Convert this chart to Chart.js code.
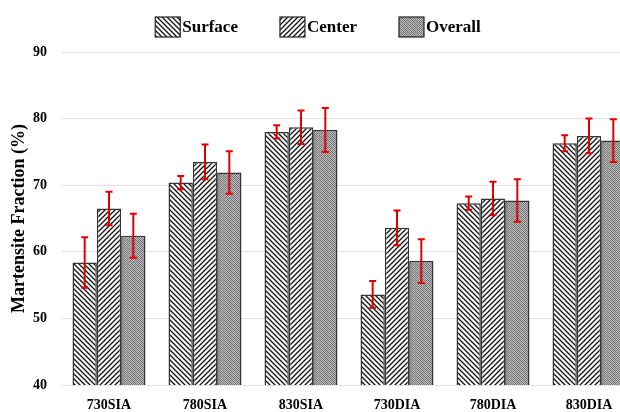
<!DOCTYPE html>
<html>
<head>
<meta charset="utf-8">
<script src="https://cdn.jsdelivr.net/npm/chart.js@4"></script>
<style>
html,body{margin:0;padding:0;background:#fff;overflow:hidden;width:620px;height:412px;}
#wrap{width:646px;height:412px;}
</style>
</head>
<body>
<div id="wrap"><canvas id="c" width="646" height="412"></canvas></div>
<script>
const categories = ['730SIA','780SIA','830SIA','730DIA','780DIA','830DIA'];
const surface = [58.4, 70.4, 78.0, 53.6, 67.3, 76.3];
const center  = [66.5, 73.5, 78.7, 63.6, 68.0, 77.4];
const overall = [62.4, 71.9, 78.3, 58.6, 67.7, 76.7];
const surfaceErr = [3.8, 1.0, 1.0, 2.0, 1.0, 1.2];
const centerErr  = [2.5, 2.6, 2.5, 2.6, 2.5, 2.6];
const overallErr = [3.3, 3.2, 3.3, 3.3, 3.2, 3.2];
const yTicks = [40, 50, 60, 70, 80, 90];

function stripe(dir){
  const s = 5;
  const c = document.createElement('canvas');
  c.width = s; c.height = s;
  const g = c.getContext('2d');
  g.fillStyle = '#fff'; g.fillRect(0,0,s,s);
  g.strokeStyle = '#111'; g.lineWidth = 1.3;
  g.beginPath();
  if(dir === 'back'){
    g.moveTo(-1,-1); g.lineTo(s+1,s+1);
    g.moveTo(-1,s-1); g.lineTo(1,s+1);
    g.moveTo(s-1,-1); g.lineTo(s+1,1);
  } else {
    g.moveTo(-1,s+1); g.lineTo(s+1,-1);
    g.moveTo(-1,1); g.lineTo(1,-1);
    g.moveTo(s-1,s+1); g.lineTo(s+1,s-1);
  }
  g.stroke();
  return g.createPattern(c,'repeat');
}
function dots(){
  const c = document.createElement('canvas');
  c.width = 4; c.height = 4;
  const g = c.getContext('2d');
  const cols = [
    ['#777','#bbb','#777','#aaa'],
    ['#ccc','#666','#bbb','#888'],
    ['#777','#aaa','#777','#bbb'],
    ['#bbb','#888','#ccc','#666']];
  for(let y=0;y<4;y++)for(let x=0;x<4;x++){g.fillStyle=cols[y][x];g.fillRect(x,y,1,1);}
  return g.createPattern(c,'repeat');
}

const serif = "'Liberation Serif','Times New Roman',serif";
const errMap = [surfaceErr, centerErr, overallErr];
const errorBars = {
  id:'errorBars',
  afterDatasetsDraw(chart){
    const ctx = chart.ctx, ys = chart.scales.y;
    ctx.save();
    ctx.strokeStyle = '#e00000';
    ctx.lineWidth = 2;
    chart.data.datasets.forEach((ds, di) => {
      const meta = chart.getDatasetMeta(di);
      meta.data.forEach((bar, i) => {
        const v = ds.data[i], e = errMap[di][i];
        const x = bar.x;
        const yt = ys.getPixelForValue(v + e), yb = ys.getPixelForValue(v - e);
        ctx.beginPath();
        ctx.moveTo(x, yt); ctx.lineTo(x, yb);
        ctx.moveTo(x-3.5, yt); ctx.lineTo(x+3.5, yt);
        ctx.moveTo(x-3.5, yb); ctx.lineTo(x+3.5, yb);
        ctx.stroke();
      });
    });
    ctx.restore();
  }
};

const topLegend = {
  id:'topLegend',
  afterDraw(chart, args, opts){
    const ctx = chart.ctx;
    ctx.save();
    ctx.font = 'bold 17px ' + serif;
    ctx.textBaseline = 'middle';
    const items = chart.data.datasets.map(ds => ({label:ds.label, fill:ds.backgroundColor, w:ctx.measureText(ds.label).width}));
    const bw = 25, bh = 20, tg = 2, ig = 42;
    let total = 0;
    items.forEach((it, i) => { total += bw + tg + it.w + (i < items.length-1 ? ig : 0); });
    let x = opts.centerX - total/2;
    const y = opts.top;
    items.forEach(it => {
      ctx.fillStyle = it.fill;
      ctx.fillRect(x, y, bw, bh);
      ctx.strokeStyle = '#222'; ctx.lineWidth = 1.2;
      ctx.strokeRect(x, y, bw, bh);
      ctx.fillStyle = '#000';
      ctx.fillText(it.label, x + bw + tg, y + bh/2 + 1);
      x += bw + tg + it.w + ig;
    });
    ctx.restore();
  }
};

const common = {borderColor:'#333', borderWidth:1.5, barPercentage:1.0, categoryPercentage:0.76, borderSkipped:false};
new Chart(document.getElementById('c'), {
  type:'bar',
  data:{
    labels:categories,
    datasets:[
      Object.assign({label:'Surface', data:surface, backgroundColor:stripe('back')}, common),
      Object.assign({label:'Center', data:center, backgroundColor:stripe('fwd')}, common),
      Object.assign({label:'Overall', data:overall, backgroundColor:dots()}, common)
    ]
  },
  options:{
    responsive:false,
    animation:false,
    layout:{padding:{left:0,right:9,top:52,bottom:0}},
    plugins:{
      legend:{display:false},
      tooltip:{enabled:false},
      topLegend:{centerX:318, top:17}
    },
    scales:{
      x:{
        grid:{display:false},
        border:{display:false},
        ticks:{color:'#000', font:{family:serif, size:14, weight:'bold'}, padding:4},
        afterFit(s){ s.height = 27; }
      },
      y:{
        min:40, max:90,
        afterBuildTicks(s){ s.ticks = yTicks.map(v=>({value:v})); },
        grid:{color:'#e3e3e3', lineWidth:1, drawTicks:false},
        border:{display:false},
        ticks:{color:'#000', font:{family:serif, size:14, weight:'bold'}, padding:14},
        title:{display:true, text:'Martensite Fraction (%)', color:'#000', font:{family:serif, size:18, weight:'bold'}, padding:{top:9,bottom:0}},
        afterFit(s){ s.width = 61; }
      }
    }
  },
  plugins:[errorBars, topLegend]
});
</script>
</body>
</html>
